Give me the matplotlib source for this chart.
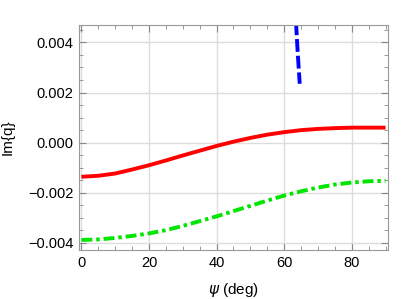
import numpy as np
import matplotlib
matplotlib.use('Agg')
import matplotlib.pyplot as plt
from matplotlib.ticker import MultipleLocator, FuncFormatter

# psi in degrees
psi = [0, 5, 10, 15, 20, 25, 30, 35, 40, 45, 50, 55, 60, 65, 70, 75, 80, 85, 90]
im_red = [-0.00136, -0.00132, -0.00123, -0.00107, -0.0009, -0.00071, -0.00051, -0.00032,
          -0.00013, 0.00004, 0.00019, 0.00032, 0.00042, 0.0005, 0.00055, 0.00058,
          0.0006, 0.0006, 0.0006]
im_green = [-0.00388, -0.00386, -0.0038, -0.00372, -0.00362, -0.00349, -0.00332, -0.00313,
            -0.00294, -0.00273, -0.00252, -0.00231, -0.00211, -0.00194, -0.00179, -0.00167,
            -0.00159, -0.00154, -0.00152]
psi_blue = [63.5, 64.0, 64.6]
im_blue = [0.0048, 0.0036, 0.00235]

plt.rcParams['font.family'] = ['Liberation Sans', 'DejaVu Sans']
plt.rcParams['font.size'] = 10.5

fig = plt.figure(figsize=(4.14, 2.99), dpi=100)
ax = fig.add_axes([0.191, 0.164, 0.746, 0.752])

ax.plot(psi, im_red, color='red', lw=2.8, solid_capstyle='butt')
ax.plot(psi, im_green, color='#00e600', lw=2.8, dashes=(2.8, 1.0, 0.9, 1.0))
ax.plot(psi_blue, im_blue, color='blue', lw=2.8, dashes=(3.3, 1.0))

ax.set_xlim(-0.7, 90.7)
ax.set_ylim(-0.00428, 0.00469)
ax.xaxis.set_major_locator(MultipleLocator(20))
ax.xaxis.set_minor_locator(MultipleLocator(5))
ax.yaxis.set_major_locator(MultipleLocator(0.002))
ax.yaxis.set_minor_locator(MultipleLocator(0.0005))
ax.yaxis.set_major_formatter(FuncFormatter(
    lambda v, p: ('%.3f' % v).replace('-', '\u2212') if abs(v) > 1e-9 else '0.000'))
ax.grid(True, which='major', color='#dddddd', lw=1)
ax.tick_params(which='both', direction='in', top=True, right=True,
               color='#888888', labelcolor='black', pad=4)
ax.tick_params(which='major', length=5)
ax.tick_params(which='minor', length=3)
for s in ax.spines.values():
    s.set_color('#999999')
ax.set_xlabel(r'$\psi$ (deg)', fontsize=11, labelpad=8)
ax.set_ylabel('Im{q}', fontsize=11)
ax.yaxis.set_label_coords(-0.21, 0.5)

fig.savefig('out.png', dpi=100)
